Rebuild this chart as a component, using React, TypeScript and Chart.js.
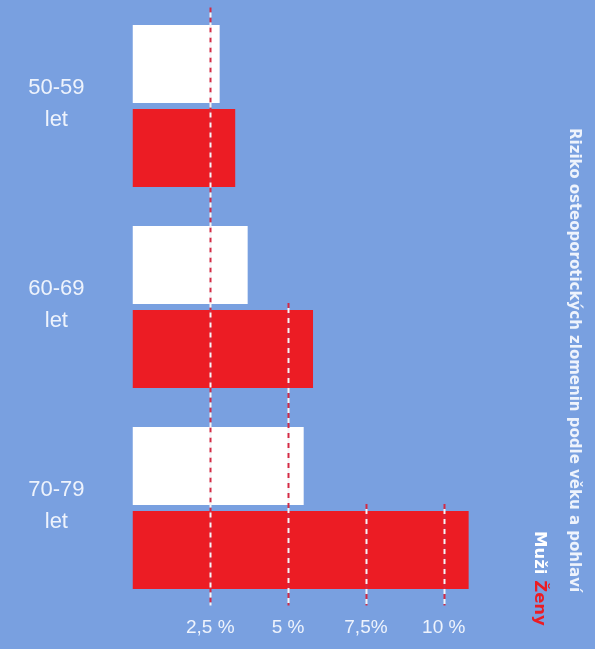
import React, { useEffect, useRef } from "react";
import { Chart, registerables } from "chart.js";

Chart.register(...registerables);

const categories: string[][] = [
  ["50-59", "let"],
  ["60-69", "let"],
  ["70-79", "let"],
];
const muzi: number[] = [2.8, 3.7, 5.5];
const zeny: number[] = [3.3, 5.8, 10.8];
const xTickValues: number[] = [2.5, 5, 7.5, 10];
const xTickLabels: string[] = ["2,5 %", "5 %", "7,5%", "10 %"];
const titleText = "Riziko osteoporotických zlomenin podle věku a pohlaví";
const legendMuzi = "Muži";
const legendZeny = "Ženy";

const BG = "#79a0e0";
const RED = "#ec1c24";
const WHITE = "#ffffff";
const TEXT = "#eef3fc";

const dashPlugin = {
  id: "dashLines",
  afterDatasetsDraw(chart: any) {
    const { ctx, chartArea, scales } = chart;
    const xs = scales.x;
    xTickValues.forEach((v) => {
      const px = Math.round(xs.getPixelForValue(v)) + 0.5;
      let startY = chartArea.bottom;
      let found = false;
      for (let i = 0; i < categories.length && !found; i++) {
        for (let d = 0; d < chart.data.datasets.length; d++) {
          const val = chart.data.datasets[d].data[i];
          if (val > v) {
            const el = chart.getDatasetMeta(d).data[i];
            startY = i === 0 ? chartArea.top + 2 : el.y - el.height / 2 - 7;
            found = true;
            break;
          }
        }
      }
      const endY = chartArea.bottom - 3;
      ctx.save();
      ctx.lineWidth = 2;
      ctx.setLineDash([5, 5]);
      ctx.strokeStyle = "#d42a44";
      ctx.beginPath();
      ctx.moveTo(px, startY);
      ctx.lineTo(px, endY);
      ctx.stroke();
      ctx.lineDashOffset = 5;
      ctx.strokeStyle = "#f4f4f8";
      ctx.beginPath();
      ctx.moveTo(px, startY);
      ctx.lineTo(px, endY);
      ctx.stroke();
      ctx.restore();
    });
  },
};

const sideTextPlugin = {
  id: "sideText",
  afterDraw(chart: any) {
    const { ctx } = chart;
    ctx.save();
    ctx.translate(574, 128);
    ctx.rotate(Math.PI / 2);
    ctx.font = "bold 15px 'DejaVu Sans'";
    ctx.textBaseline = "middle";
    ctx.textAlign = "left";
    ctx.fillStyle = TEXT;
    ctx.fillText(titleText, 0, 0);
    ctx.restore();

    ctx.save();
    ctx.translate(539, 531);
    ctx.rotate(Math.PI / 2);
    ctx.font = "bold 16.5px 'DejaVu Sans'";
    ctx.textBaseline = "middle";
    ctx.textAlign = "left";
    ctx.fillStyle = WHITE;
    ctx.fillText(legendMuzi, 0, 0);
    const w = ctx.measureText(legendMuzi + " ").width;
    ctx.fillStyle = RED;
    ctx.fillText(legendZeny, w, 0);
    ctx.restore();
  },
};

const zeroPad = (s: any) => {
  s.paddingTop = 0;
  s.paddingBottom = 0;
  s.paddingLeft = 0;
  s.paddingRight = 0;
};

export default function App() {
  const ref = useRef<HTMLCanvasElement | null>(null);
  useEffect(() => {
    if (!ref.current) return;
    const chart = new Chart(ref.current, {
      type: "bar",
      data: {
        labels: categories,
        datasets: [
          {
            label: legendMuzi,
            data: muzi,
            backgroundColor: WHITE,
            borderWidth: 0,
            categoryPercentage: 0.836,
            barPercentage: 0.929,
          },
          {
            label: legendZeny,
            data: zeny,
            backgroundColor: RED,
            borderWidth: 0,
            categoryPercentage: 0.836,
            barPercentage: 0.929,
          },
        ],
      },
      options: {
        indexAxis: "y",
        animation: false,
        responsive: false,
        layout: { padding: { top: 5.5, right: 89, left: 0, bottom: 0 } },
        plugins: {
          legend: { display: false },
          title: { display: false },
          tooltip: { enabled: false },
        },
        scales: {
          x: {
            min: 0,
            max: 12,
            grid: { display: false, drawTicks: false },
            border: { display: false },
            afterFit: (s: any) => {
              s.height = 40.5;
              zeroPad(s);
            },
            afterBuildTicks: (s: any) => {
              s.ticks = xTickValues.map((v) => ({ value: v }));
            },
            ticks: {
              padding: 8,
              color: TEXT,
              font: { family: "'Liberation Sans', Arial", size: 19 },
              maxRotation: 0,
              autoSkip: false,
              callback: (val: any) => {
                const idx = xTickValues.indexOf(Number(val));
                return idx >= 0 ? xTickLabels[idx] : "";
              },
            },
          },
          y: {
            grid: { display: false, drawTicks: false },
            border: { display: false },
            afterFit: (s: any) => {
              s.width = 132.5;
              zeroPad(s);
            },
            ticks: {
              crossAlign: "center",
              padding: 48,
              labelOffset: -2,
              color: TEXT,
              font: { family: "'Liberation Sans', Arial", size: 22, lineHeight: 1.45 },
            },
          },
        },
      },
      plugins: [dashPlugin, sideTextPlugin],
    } as any);
    return () => chart.destroy();
  }, []);

  return (
    <div
      style={{
        position: "absolute",
        left: 0,
        top: 0,
        width: 595,
        height: 649,
        background: BG,
      }}
    >
      <canvas ref={ref} width={595} height={649} style={{ display: "block" }} />
    </div>
  );
}
